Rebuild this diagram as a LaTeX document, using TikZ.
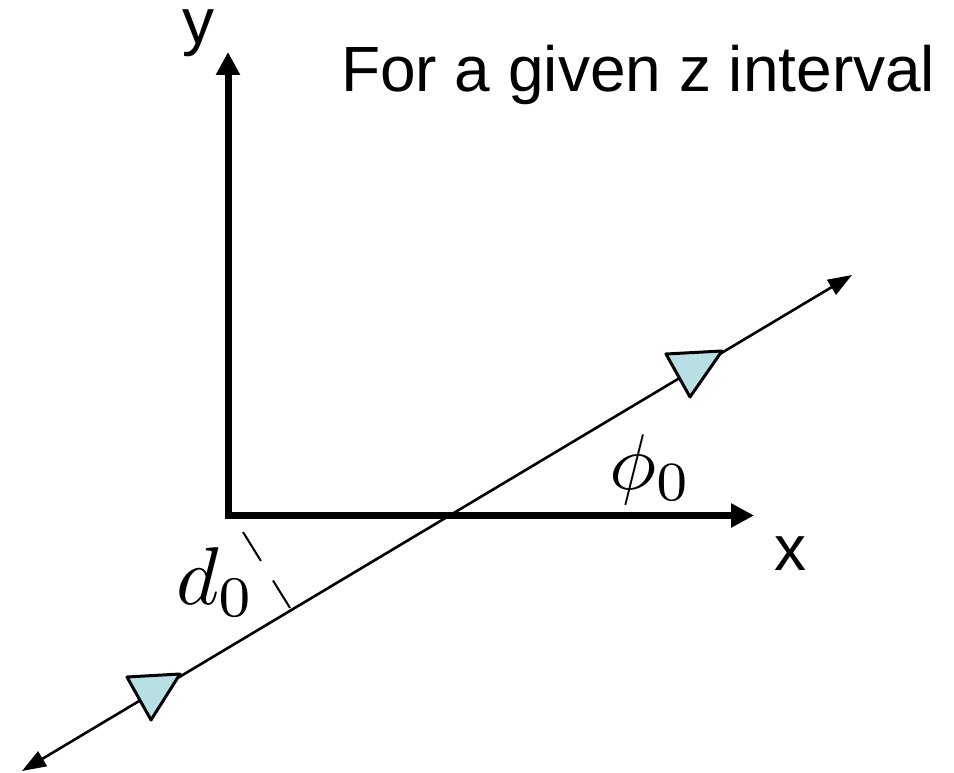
\documentclass[tikz,border=0pt]{standalone}
\usepackage{graphicx}
\usepackage{fontspec}
\newfontfamily\arialfont{Liberation Sans}
\usetikzlibrary{arrows.meta}
\definecolor{trifill}{RGB}{184,223,227}
\tikzset{
  axis/.style={line width=7pt, line join=miter},
  track/.style={line width=2.6pt},
  marker/.style={draw=black, fill=trifill, line width=3pt, line join=round},
  perp/.style={line width=2pt, dash pattern=on 34pt off 23pt},
  sanslabel/.style={inner sep=0pt, font=\arialfont\fontsize{64}{72}\selectfont},
  mathlabel/.style={inner sep=0pt},
}
\begin{document}
\begin{tikzpicture}[x=1pt,y=-1pt]
\useasboundingbox (0,0) rectangle (954,773);
% axes
\coordinate (ytip) at (228,52);
\coordinate (origin) at (228,515.5);
\coordinate (xtip) at (754,515.5);
\draw[axis, {Triangle[length=23pt,width=23pt]}-{Triangle[length=23pt,width=23pt]}]
  (ytip) -- (origin) -- (xtip);
% track line
\coordinate (tstart) at (22,771);
\coordinate (tend) at (852,275);
\draw[track, {Triangle[length=24pt,width=17pt]}-{Triangle[length=24pt,width=17pt]}]
  (tstart) -- (tend);
% perpendicular distance
\coordinate (pA) at (243,532);
\coordinate (pB) at (290,608);
\draw[perp] (pA) -- (pB);
% direction markers
\draw[marker] (666,354) -- (722,351) -- (690,397) -- cycle;
\draw[marker] (127,677) -- (180,674) -- (151,720) -- cycle;
% labels
\node[sanslabel, anchor=base, text height=34pt] (ylab) at (198,44) {y};
\node[sanslabel, anchor=base] (xlab) at (790,570) {x};
\node[sanslabel, anchor=base west] (title) at (341,92) {For a given z interval};
\node[mathlabel, anchor=base west] (dlab) at (176,604) {\scalebox{8.2}{$d_0$}};
\node[mathlabel, anchor=base west] (philab) at (609,489) {\scalebox{7.9}{$\phi_0$}};
\end{tikzpicture}
\end{document}
